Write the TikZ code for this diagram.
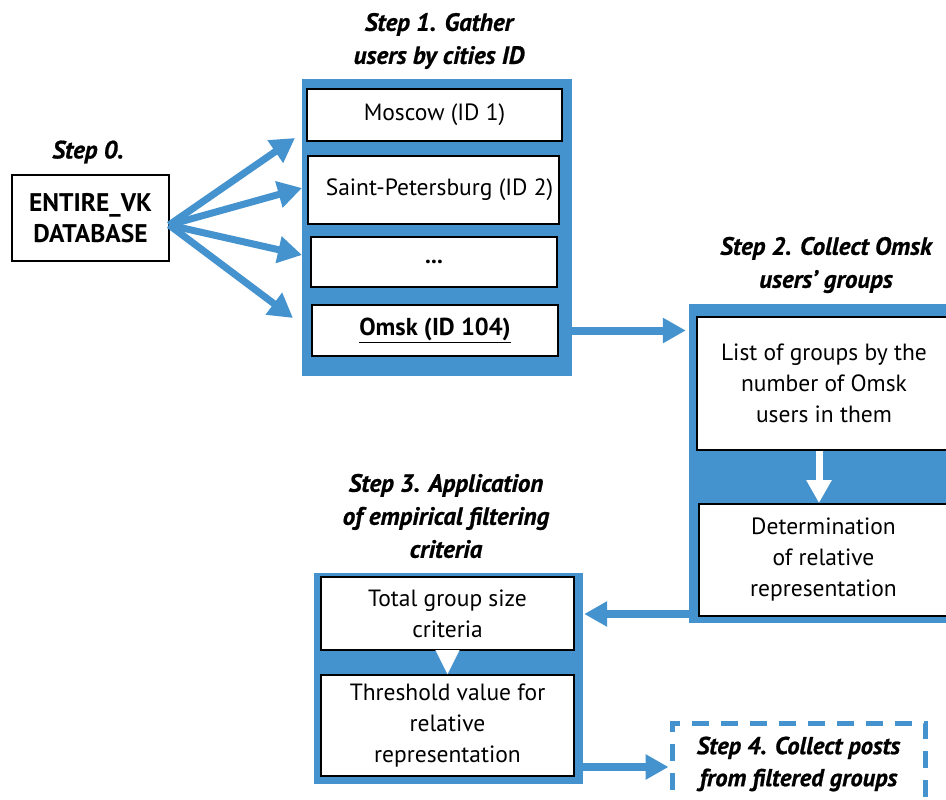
\documentclass[tikz,border=0pt]{standalone}
\usepackage{fontspec}
\setmainfont{PT Sans}
\newfontfamily\ttlfont{PT Sans}[FakeBold=0.8]
\usetikzlibrary{arrows.meta,calc}
\definecolor{vkblue}{RGB}{68,146,206}
\begin{document}
\begin{tikzpicture}[x=1pt,y=-1pt,
  panel/.style={fill=vkblue, draw=none, inner sep=0pt},
  box/.style={draw=black, line width=2pt, fill=white, inner sep=0pt, align=center,
    font=\fontsize{23.5}{31}\selectfont},
  ttl/.style={align=center, inner sep=0pt, font=\ttlfont\fontsize{25}{33}\selectfont\bfseries\itshape},
  barrow/.style={vkblue, line width=7pt, -{Triangle[length=24pt,width=26pt]}},
  harrow/.style={vkblue, line width=8pt, -{Triangle[length=23pt,width=24pt]}},
  warrow/.style={white, line width=7pt, -{Triangle[length=23pt,width=24pt]}},
  dashbox/.style={draw=vkblue, line width=5pt, dash pattern=on 17pt off 12pt, fill=white, inner sep=0pt}
]
\useasboundingbox (0,0) rectangle (946,800);
\clip (0,0) rectangle (946,800);

% Step 0
\node[ttl] (s0) at (88,152) {Step 0.};
\node[box, minimum width=157pt, minimum height=86pt, font=\fontsize{25.5}{31}\selectfont\bfseries] (db) at (90.5,218) {ENTIRE\_VK\\DATABASE};

% Step 1
\node[ttl] (s1) at (439,41) {Step 1. Gather\\users by cities ID};
\node[panel, minimum width=270pt, minimum height=297pt] (p1) at (437,227.5) {};
\node[box, minimum width=255pt, minimum height=52pt] (mos) at (434.5,115) {Moscow (ID 1)};
\node[box, minimum width=251pt, minimum height=68pt] (spb) at (433.5,190) {\hspace*{12pt}Saint-Petersburg (ID 2)};
\node[box, minimum width=246pt, minimum height=50pt] (dots) at (434,262) {\textbf{...}};
\node[box, minimum width=246pt, minimum height=51pt, font=\fontsize{24.5}{31}\selectfont\bfseries] (omsk) at (435,330.5) {\underline{Omsk (ID 104)}};

\coordinate (o) at (169,225);
\coordinate (t1) at (295,138);
\coordinate (t2) at (302,188);
\coordinate (t3) at (302,255);
\coordinate (t4) at (293,318);
\draw[barrow] (o) -- (t1);
\draw[barrow] (o) -- (t2);
\draw[barrow] (o) -- (t3);
\draw[barrow] (o) -- (t4);

% Step 2
\node[ttl] (s2) at (826,265) {Step 2. Collect Omsk\\users’ groups};
\node[panel, minimum width=271pt, minimum height=319pt] (p2) at (824.5,463.5) {};
\node[box, minimum width=254pt, minimum height=133pt] (list) at (824,383.5) {List of groups by the\\number of Omsk\\users in them};
\node[box, minimum width=249pt, minimum height=112pt] (det) at (823.5,560) {Determination\\of relative\\representation};
\draw[warrow] (list.south -| 819,0) -- (det.north -| 819,0);

\draw[harrow] (omsk.east -| p1.east) -- ($(omsk.east -| p2.west)+(-3,0)$);

% Step 3
\node[ttl] (s3) at (446,516) {Step 3. Application\\of empirical filtering\\criteria};
\node[panel, minimum width=269pt, minimum height=211pt] (p3) at (448.5,678.5) {};
\node[box, minimum width=253pt, minimum height=73pt] (tot) at (447.5,613.5) {Total group size\\criteria};
\node[box, minimum width=253pt, minimum height=101pt] (thr) at (447.5,725.5) {Threshold value for\\relative\\representation};
\draw[white, line width=0.1pt, -{Triangle[length=24pt,width=24pt]}] (tot.south) -- (thr.north);

\draw[harrow] ($(tot.east -| p2.west)+(0,0.5)$) -- ($(tot.east -| p3.east)+(1,0.5)$);

% Step 4
\node[dashbox, minimum width=253pt, minimum height=82pt, font=\ttlfont\fontsize{24.5}{32}\selectfont\bfseries\itshape, align=center] (s4) at (798.5,764) {Step 4. Collect posts\\from filtered groups};
\draw[harrow] ($(p3.east |- s4)+(0,3)$) -- ($(s4.west)+(-1,3)$);
\end{tikzpicture}
\end{document}
